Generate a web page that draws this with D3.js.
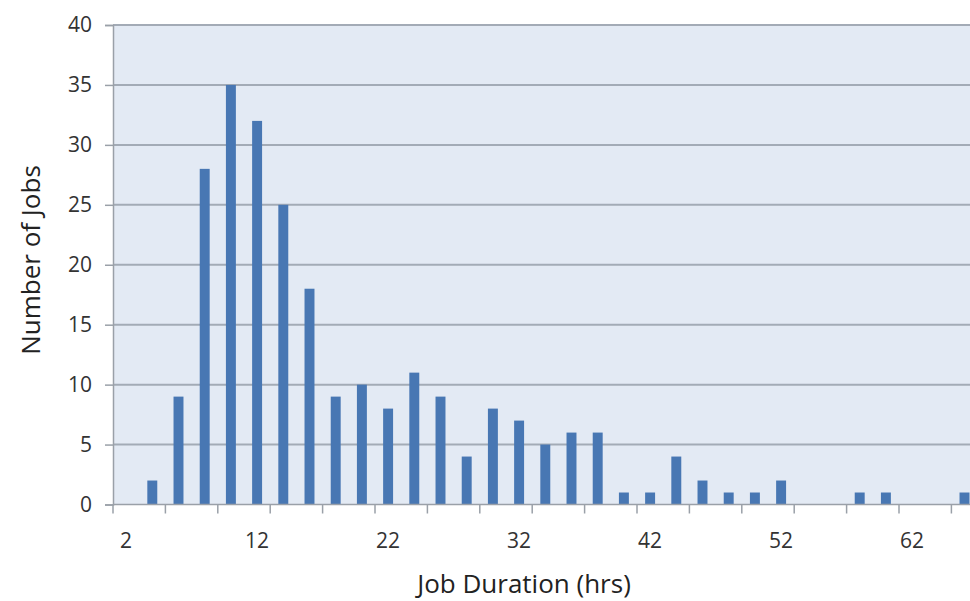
<!DOCTYPE html>
<html>
<head>
<meta charset="utf-8">
<script src="https://cdn.jsdelivr.net/npm/d3@7/dist/d3.min.js"></script>
<style>
  html, body { margin: 0; padding: 0; background: #ffffff; }
  svg { display: block; }
</style>
</head>
<body>
<svg id="chart" width="970" height="601"></svg>
<script>
// ---- data ----
const categories = [2,4,6,8,10,12,14,16,18,20,22,24,26,28,30,32,34,36,38,40,42,44,46,48,50,52,54,56,58,60,62,64,66];
const jobCounts  = [0,2,9,28,35,32,25,18,9,10,8,11,9,4,8,7,5,6,6,1,1,4,2,1,1,2,0,0,1,1,0,0,1];
const yTickValues = [0,5,10,15,20,25,30,35,40];
const xLabelValues = [2,12,22,32,42,52,62];
const xTitle = "Job Duration (hrs)";
const yTitle = "Number of Jobs";

(function () {
  // ---- layout ----
  const svg = d3.select("#chart");
  const plotLeft = 113, plotTop = 25, plotBottom = 504.5;
  const step = 26.2;
  const plotRight = plotLeft + step * categories.length;
  const font = "'Open Sans', 'Noto Sans', sans-serif";

  const x = d3.scaleBand()
    .domain(categories)
    .range([plotLeft, plotRight])
    .paddingInner(0.62)
    .paddingOuter(0.31);

  const y = d3.scaleLinear().domain([0, 40]).range([plotBottom, plotTop]);

  // plot background
  svg.append("rect")
    .attr("x", plotLeft).attr("y", plotTop)
    .attr("width", plotRight - plotLeft).attr("height", plotBottom - plotTop)
    .attr("fill", "#e3eaf4");

  // gridlines
  svg.append("g").selectAll("line")
    .data(yTickValues.filter(d => d > 0))
    .join("line")
    .attr("x1", plotLeft).attr("x2", plotRight)
    .attr("y1", d => y(d)).attr("y2", d => y(d))
    .attr("stroke", "#a3abb6").attr("stroke-width", 2);

  // bars
  svg.append("g").selectAll("rect")
    .data(categories.map((c, i) => ({c, v: jobCounts[i]})).filter(d => d.v > 0))
    .join("rect")
    .attr("x", d => x(d.c))
    .attr("width", x.bandwidth())
    .attr("y", d => y(d.v))
    .attr("height", d => y(0) - y(d.v))
    .attr("fill", "#4877b3");

  // y axis
  const yAxis = d3.axisLeft(y).tickValues(yTickValues).tickSize(8).tickPadding(13);
  const gy = svg.append("g").attr("transform", `translate(${plotLeft},0)`).call(yAxis);
  gy.attr("font-size", null);
  gy.select(".domain").attr("stroke", "#9aa0a8").attr("stroke-width", 1.5);
  gy.selectAll(".tick line").attr("stroke", "#9aa0a8").attr("stroke-width", 1.5);
  gy.selectAll(".tick text")
    .attr("font-family", font).attr("font-size", 21).attr("fill", "#333");

  // x axis baseline
  svg.append("line")
    .attr("x1", plotLeft).attr("x2", plotRight)
    .attr("y1", y(0)).attr("y2", y(0))
    .attr("stroke", "#9aa0a8").attr("stroke-width", 1.5);

  // x tick marks every 2 categories at category boundaries
  const tickIdx = d3.range(0, categories.length + 1, 2);
  svg.append("g").selectAll("line")
    .data(tickIdx)
    .join("line")
    .attr("x1", i => plotLeft + i * x.step()).attr("x2", i => plotLeft + i * x.step())
    .attr("y1", y(0)).attr("y2", y(0) + 9)
    .attr("stroke", "#9aa0a8").attr("stroke-width", 1.5);

  // x labels
  svg.append("g").selectAll("text")
    .data(xLabelValues)
    .join("text")
    .attr("x", d => x(d) + x.bandwidth() / 2)
    .attr("y", 548)
    .attr("text-anchor", "middle")
    .attr("font-family", font).attr("font-size", 21).attr("fill", "#333")
    .text(d => d);

  // axis titles
  svg.append("text")
    .attr("x", 524).attr("y", 593)
    .attr("text-anchor", "middle")
    .attr("font-family", font).attr("font-size", 26).attr("fill", "#222")
    .text(xTitle);

  svg.append("text")
    .attr("transform", "translate(40,260) rotate(-90)")
    .attr("text-anchor", "middle")
    .attr("font-family", font).attr("font-size", 26).attr("fill", "#222")
    .text(yTitle);
})();
</script>
</body>
</html>
